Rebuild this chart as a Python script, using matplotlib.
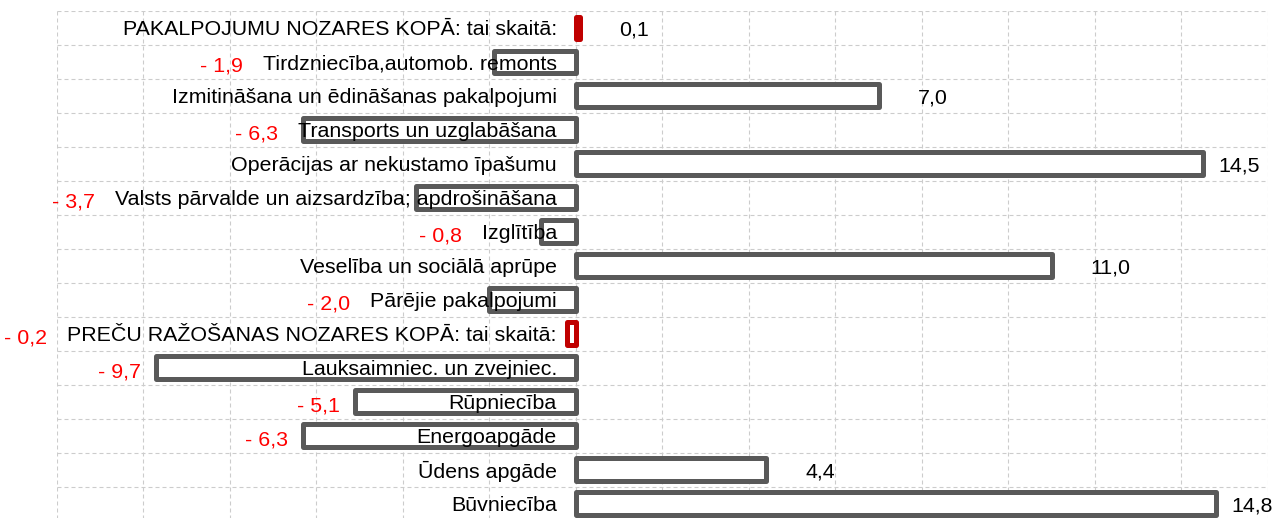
import matplotlib
matplotlib.use("Agg")
import matplotlib.pyplot as plt
import matplotlib.patheffects as pe
import matplotlib.transforms as mtransforms
from matplotlib.ticker import MultipleLocator

plt.rcParams['font.family'] = ['Liberation Sans', 'DejaVu Sans']

categories = [
    "PAKALPOJUMU NOZARES KOPĀ: tai skaitā:",
    "Tirdzniecība,automob. remonts",
    "Izmitināšana un ēdināšanas pakalpojumi",
    "Transports un uzglabāšana",
    "Operācijas ar nekustamo īpašumu",
    "Valsts pārvalde un aizsardzība; apdrošināšana",
    "Izglītība",
    "Veselība un sociālā aprūpe",
    "Pārējie pakalpojumi",
    "PREČU RAŽOŠANAS NOZARES KOPĀ: tai skaitā:",
    "Lauksaimniec. un zvejniec.",
    "Rūpniecība",
    "Energoapgāde",
    "Ūdens apgāde",
    "Būvniecība",
]
values = [0.1, -1.9, 7.0, -6.3, 14.5, -3.7, -0.8, 11.0, -2.0, -0.2,
          -9.7, -5.1, -6.3, 4.4, 14.8]
totals = [0, 9]

FS = 15.4

fig = plt.figure(figsize=(12.74, 5.18), dpi=100)
ax = fig.add_axes([0.0445, -0.0052, 0.9508, 0.9845])

ypos = list(range(len(categories)))
edges = ['#c00000' if i in totals else '#595959' for i in ypos]
bars = ax.barh(ypos, values, height=0.66, color='white', edgecolor=edges,
               linewidth=3.6, zorder=3)
for b in bars:
    b.set_joinstyle('round')
    b.set_path_effects([pe.SimplePatchShadow(offset=(1.5, -1.5),
                                             shadow_rgbFace='#888888', alpha=0.5),
                        pe.Normal()])

ax.set_xlim(-12, 16)
ax.set_ylim(len(categories) - 0.5, -0.5)

ax.xaxis.set_major_locator(MultipleLocator(2))
ax.set_xticklabels([])
ax.tick_params(axis='x', length=0)

ax.set_yticks(ypos)
ax.set_yticklabels([])
ax.set_yticks([i - 0.5 for i in range(len(categories) + 1)], minor=True)
ax.tick_params(axis='y', which='both', length=0)

for s in ax.spines.values():
    s.set_color('none')

ax.set_axisbelow(True)
grid_kw = dict(color='#cccccc', linestyle=(0, (3.6, 2.7)), linewidth=0.8)
ax.grid(axis='x', which='major', **grid_kw)
ax.grid(axis='y', which='minor', **grid_kw)

# category names sit just left of the zero line, on top of the bars
lab_tr = mtransforms.offset_copy(ax.transData, fig=fig, x=-19, y=0, units='dots')
cat_texts = [ax.text(0, i, c, ha='right', va='center_baseline', fontsize=FS,
                     color='black', transform=lab_tr, zorder=5)
             for i, c in enumerate(categories)]

fig.canvas.draw()
renderer = fig.canvas.get_renderer()
inv = ax.transData.inverted()
px_unit = (ax.transData.transform((1, 0))[0] - ax.transData.transform((0, 0))[0])

for i, (v, lab) in enumerate(zip(values, cat_texts)):
    txt = f"{abs(v):.1f}".replace('.', ',')
    if v >= 0:
        x = v + 0.9 if v < 14 else v + 0.35
        ax.text(x, i, txt, ha='left', va='center_baseline', fontsize=FS,
                color='black', zorder=5)
    else:
        bb = lab.get_window_extent(renderer)
        cat_left = inv.transform((bb.x0, 0))[0]
        x = min(v - 0.35, cat_left - 20 / px_unit)
        ax.text(x, i + 0.08, "- " + txt, ha='right', va='center_baseline',
                fontsize=FS, color='#ff0000', zorder=5)

fig.savefig("out.png", dpi=100)
